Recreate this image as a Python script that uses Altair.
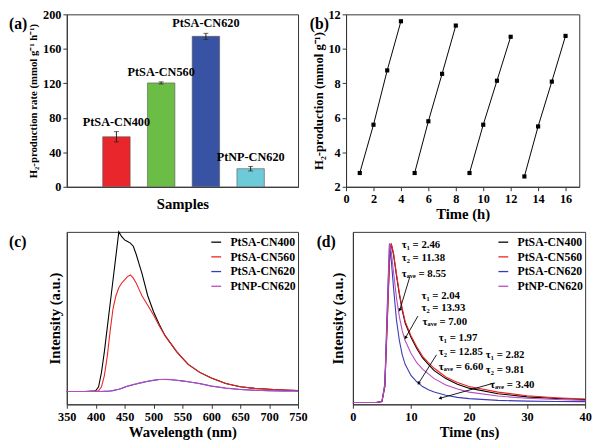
import math
import altair as alt
import pandas as pd

FONT = "Liberation Serif"

# ---------------- Panel (a) data ----------------
samples = ["PtSA-CN400", "PtSA-CN560", "PtSA-CN620", "PtNP-CN620"]
rates = [58, 120.5, 174.5, 21]
rate_err = [6, 1.2, 3.5, 2.6]
bar_colors = ["#e8262b", "#6cbd45", "#3953a4", "#6dcbd9"]

# ---------------- Panel (b) data ----------------
cycle_time = [1, 2, 3, 4, 5, 6, 7, 8, 9, 10, 11, 12, 13, 14, 15, 16]
cycle_h2 = [2.8, 5.6, 8.75, 11.6, 2.8, 5.8, 8.55, 11.35,
            2.8, 5.6, 8.15, 10.7, 2.6, 5.5, 8.1, 10.75]
cycle_id = [1, 1, 1, 1, 2, 2, 2, 2, 3, 3, 3, 3, 4, 4, 4, 4]

# ---------------- Panel (c) data ----------------
wavelength = [350, 380, 400, 405, 410, 415, 420, 425, 430, 435, 440, 445, 450, 455,
              460, 465, 470, 475, 480, 490, 500, 510, 520, 530, 540, 550, 560, 580,
              600, 625, 650, 675, 700, 725, 750]
pl_cn400 = [0, 0, 0.005, 0.03, 0.12, 0.25, 0.40, 0.55, 0.70, 0.85, 1.0, 0.97, 0.95, 0.94,
            0.93, 0.91, 0.86, 0.80, 0.74, 0.60, 0.50, 0.42, 0.35, 0.30, 0.25, 0.21, 0.17, 0.12,
            0.085, 0.05, 0.03, 0.02, 0.015, 0.01, 0.006]
pl_cn560 = [0, 0, 0, 0.005, 0.03, 0.10, 0.22, 0.38, 0.52, 0.60, 0.65, 0.68, 0.70, 0.72,
            0.73, 0.71, 0.68, 0.64, 0.60, 0.54, 0.48, 0.41, 0.35, 0.30, 0.25, 0.21, 0.17, 0.12,
            0.085, 0.05, 0.03, 0.02, 0.014, 0.01, 0.006]
pl_cn620 = [0, 0, 0, 0, 0, 0.001, 0.002, 0.004, 0.006, 0.01, 0.014, 0.02, 0.027, 0.033,
            0.038, 0.043, 0.047, 0.052, 0.056, 0.064, 0.07, 0.075, 0.076, 0.074, 0.071, 0.067, 0.062, 0.05,
            0.035, 0.022, 0.013, 0.008, 0.005, 0.004, 0.003]
pl_np620 = [0, 0, 0, 0, 0, 0.001, 0.002, 0.004, 0.007, 0.011, 0.015, 0.021, 0.028, 0.034,
            0.039, 0.044, 0.048, 0.053, 0.057, 0.065, 0.071, 0.075, 0.077, 0.075, 0.071, 0.066, 0.061, 0.049,
            0.034, 0.021, 0.013, 0.008, 0.005, 0.004, 0.003]

# ---------------- Panel (d) data ----------------
decay_time = [0, 4, 5, 5.5, 6, 6.3, 6.6, 7, 7.5, 8, 8.5, 9, 10, 11, 12, 13, 14, 16, 18, 20,
              25, 30, 35, 40]
tr_cn400 = [0, 0, 0.005, 0.1, 0.6, 0.9, 1.0, 0.93, 0.8, 0.68, 0.58, 0.5, 0.41, 0.34, 0.28,
            0.24, 0.2, 0.15, 0.115, 0.09, 0.055, 0.035, 0.025, 0.018]
tr_cn560 = [0, 0, 0.005, 0.1, 0.58, 0.88, 1.0, 0.94, 0.81, 0.69, 0.59, 0.51, 0.42, 0.35, 0.29,
            0.25, 0.215, 0.16, 0.125, 0.1, 0.065, 0.042, 0.03, 0.022]
tr_cn620 = [0, 0, 0.005, 0.12, 0.7, 1.0, 0.9, 0.72, 0.52, 0.39, 0.3, 0.24, 0.17, 0.13, 0.1,
            0.08, 0.065, 0.045, 0.032, 0.024, 0.013, 0.008, 0.006, 0.005]
tr_np620 = [0, 0, 0.005, 0.11, 0.65, 1.0, 0.95, 0.82, 0.66, 0.54, 0.45, 0.39, 0.31, 0.25, 0.21,
            0.18, 0.15, 0.11, 0.085, 0.065, 0.04, 0.026, 0.018, 0.012]
line_colors = ["#000000", "#ee2222", "#3b3bb5", "#b84bbf"]

tau_texts = ["τ₁ = 2.46", "τ₂ = 11.38", "τₐᵥₑ = 8.55",
             "τ₁ = 2.04", "τ₂ = 13.93", "τₐᵥₑ = 7.00",
             "τ₁ = 1.97", "τ₂ = 12.85", "τₐᵥₑ = 6.60",
             "τ₁ = 2.82", "τ₂ = 9.81", "τₐᵥₑ = 3.40"]
tau_x = [8.4, 8.4, 8.4, 11.8, 11.8, 12.0, 14.8, 14.8, 14.8, 22.9, 22.9, 23.6]
tau_y = [0.99, 0.91, 0.81, 0.67, 0.595, 0.506, 0.407, 0.315, 0.222, 0.296, 0.205, 0.111]
arrow_x0 = [9.79, 11.2, 14.4, 24.4]
arrow_y0 = [0.79, 0.544, 0.30, 0.123]
arrow_x1 = [8.1, 9.1, 11.36, 15.1]
arrow_y1 = [0.585, 0.41, 0.123, 0.027]

W, H = 236, 176

def panel_label(txt, dx):
    return alt.Chart(pd.DataFrame({"t": [txt]})).mark_text(
        font=FONT, fontWeight="bold", fontSize=16, align="left", baseline="middle", color="black"
    ).encode(text="t:N", x=alt.value(dx), y=alt.value(10))

# ---------------- Panel (a) ----------------
df_a = pd.DataFrame({"name": samples, "pos": [1, 2, 3, 4], "rate": rates, "err": rate_err})
base_a = alt.Chart(df_a).transform_calculate(
    lo="datum.rate - datum.err", hi="datum.rate + datum.err")
xs_a = alt.Scale(domain=[0, 4.95])
ys_a = alt.Scale(domain=[0, 200])
ax_a = alt.Axis(labels=False, ticks=False, titlePadding=10, titleFontSize=15)
ay_a = alt.Axis(values=[0, 40, 80, 120, 160, 200], titlePadding=4, titleFontSize=11)
XA = "Samples"
YA = "H₂-production rate (mmol g⁻¹ h⁻¹)"
bars = base_a.mark_bar(size=28, stroke="#555", strokeWidth=0.6).encode(
    x=alt.X("pos:Q", scale=xs_a, axis=ax_a, title=XA),
    y=alt.Y("rate:Q", scale=ys_a, axis=ay_a, title=YA),
    color=alt.Color("name:N", scale=alt.Scale(domain=samples, range=bar_colors), legend=None))
errs = base_a.mark_rule(color="#222", strokeWidth=1).encode(
    x=alt.X("pos:Q", scale=xs_a, axis=ax_a, title=XA),
    y=alt.Y("lo:Q", scale=ys_a, axis=ay_a, title=YA), y2="hi:Q")
cap_hi = base_a.mark_tick(orient="horizontal", color="#222", size=5, thickness=1).encode(
    x=alt.X("pos:Q", scale=xs_a, axis=ax_a, title=XA),
    y=alt.Y("hi:Q", scale=ys_a, axis=ay_a, title=YA))
cap_lo = base_a.mark_tick(orient="horizontal", color="#222", size=5, thickness=1).encode(
    x=alt.X("pos:Q", scale=xs_a, axis=ax_a, title=XA),
    y=alt.Y("lo:Q", scale=ys_a, axis=ay_a, title=YA))
lbl_a = base_a.mark_text(font=FONT, fontWeight="bold", fontSize=12.5, baseline="bottom", dy=-3,
                         color="black").encode(
    x=alt.X("pos:Q", scale=xs_a, axis=ax_a, title=XA),
    y=alt.Y("hi:Q", scale=ys_a, axis=ay_a, title=YA),
    text="name:N")
panel_a = alt.layer(bars, errs, cap_hi, cap_lo, lbl_a, panel_label("(a)", -59)).properties(
    width=W, height=H)

# ---------------- Panel (b) ----------------
df_b = pd.DataFrame({"time": cycle_time, "h2": cycle_h2, "cycle": cycle_id})
xb = alt.X("time:Q", scale=alt.Scale(domain=[0, 17]),
           axis=alt.Axis(values=list(range(0, 17, 2)), titlePadding=2, titleFontSize=15),
           title="Time (h)")
yb = alt.Y("h2:Q", scale=alt.Scale(domain=[2, 12]),
           axis=alt.Axis(values=[2, 4, 6, 8, 10, 12], titlePadding=3, titleFontSize=13),
           title="H₂-production (mmol g⁻¹)")
line_b = alt.Chart(df_b).mark_line(color="black", strokeWidth=1).encode(x=xb, y=yb, detail="cycle:N")
pts_b = alt.Chart(df_b).mark_point(shape="square", filled=True, size=18, color="black",
                                   opacity=1).encode(x=xb, y=yb)
panel_b = alt.layer(line_b, pts_b, panel_label("(b)", -37)).properties(width=238, height=H)

legend_cfg = dict(orient="top-right", offset=2, padding=0, title=None, labelFont=FONT,
                  labelFontWeight="bold", labelFontSize=12, labelColor="black",
                  symbolType="M-0.67,0H0.67", symbolSize=225, symbolStrokeWidth=1.3,
                  rowPadding=0, labelOffset=6)

# ---------------- Panel (c) ----------------
rows_c = []
for name, vals in zip(samples, [pl_cn400, pl_cn560, pl_cn620, pl_np620]):
    for w, v in zip(wavelength, vals):
        rows_c.append({"sample": name, "wl": w, "I": v})
df_c = pd.DataFrame(rows_c)
line_c = alt.Chart(df_c).mark_line(strokeWidth=1.1).encode(
    x=alt.X("wl:Q", scale=alt.Scale(domain=[350, 750]),
            axis=alt.Axis(values=list(range(350, 751, 50)), titlePadding=2, titleFontSize=15),
            title="Wavelength (nm)"),
    y=alt.Y("I:Q", scale=alt.Scale(domain=[-0.08, 1.0]),
            axis=alt.Axis(labels=False, ticks=False, titlePadding=4, titleFontSize=15),
            title="Intensity (a.u.)"),
    color=alt.Color("sample:N", scale=alt.Scale(domain=samples, range=line_colors),
                    sort=samples, legend=alt.Legend(**legend_cfg)),
    order=alt.Order("wl:Q"))
panel_c = alt.layer(line_c, panel_label("(c)", -59)).properties(width=W, height=H)

# ---------------- Panel (d) ----------------
rows_d = []
for name, vals in zip(samples, [tr_cn400, tr_cn560, tr_cn620, tr_np620]):
    for t, v in zip(decay_time, vals):
        rows_d.append({"trace": name, "t": t, "I": v})
df_d = pd.DataFrame(rows_d)
WD = 237
xs_d = alt.Scale(domain=[0, 40])
ys_d = alt.Scale(domain=[-0.012, 1.074])
xd_axis = alt.Axis(values=[0, 10, 20, 30, 40], titlePadding=2, titleFontSize=15)
yd_axis = alt.Axis(labels=False, ticks=False, titlePadding=8, titleFontSize=15)
line_d = alt.Chart(df_d).mark_line(strokeWidth=1.1).encode(
    x=alt.X("t:Q", scale=xs_d, axis=xd_axis, title="Time (ns)"),
    y=alt.Y("I:Q", scale=ys_d, axis=yd_axis, title="Intensity (a.u.)"),
    color=alt.Color("trace:N", scale=alt.Scale(domain=samples, range=line_colors),
                    sort=samples, legend=alt.Legend(**legend_cfg)),
    order=alt.Order("t:Q"))
df_tau = pd.DataFrame({"txt": tau_texts, "x": tau_x, "y": tau_y})
txt_d = alt.Chart(df_tau).mark_text(font=FONT, fontWeight="bold", fontSize=11, align="left",
                                    baseline="middle", color="black").encode(
    x=alt.X("x:Q", scale=xs_d, axis=xd_axis, title="Time (ns)"),
    y=alt.Y("y:Q", scale=ys_d, axis=yd_axis, title="Intensity (a.u.)"), text="txt:N")
px_x = WD / 40.0
px_y = H / (1.074 + 0.012)
angles = [math.degrees(math.atan2((x1 - x0) * px_x, (y1 - y0) * px_y)) % 360
          for x0, y0, x1, y1 in zip(arrow_x0, arrow_y0, arrow_x1, arrow_y1)]
df_arr = pd.DataFrame({"x0": arrow_x0, "y0": arrow_y0, "x1": arrow_x1, "y1": arrow_y1,
                       "ang": angles})
arr_d = alt.Chart(df_arr).mark_rule(color="black", strokeWidth=0.9).encode(
    x=alt.X("x0:Q", scale=xs_d, axis=xd_axis, title="Time (ns)"),
    y=alt.Y("y0:Q", scale=ys_d, axis=yd_axis, title="Intensity (a.u.)"), x2="x1:Q", y2="y1:Q")
head_d = alt.Chart(df_arr).mark_point(shape="triangle", filled=True, size=14, color="black",
                                      opacity=1).encode(
    x=alt.X("x1:Q", scale=xs_d, axis=xd_axis, title="Time (ns)"),
    y=alt.Y("y1:Q", scale=ys_d, axis=yd_axis, title="Intensity (a.u.)"),
    angle=alt.Angle("ang:Q", scale=None))
panel_d = alt.layer(line_d, arr_d, head_d, txt_d, panel_label("(d)", -37)).properties(
    width=WD, height=H)

top = alt.hconcat(panel_a, panel_b, spacing=10).resolve_scale(color="independent").resolve_legend(color="independent")
bottom = alt.hconcat(panel_c, panel_d, spacing=8).resolve_scale(color="independent").resolve_legend(color="independent")
chart = alt.vconcat(top, bottom, spacing=7).resolve_scale(color="independent").resolve_legend(
    color="independent").properties(
    padding={"left": 0, "top": -5, "right": 0, "bottom": 0}
).configure_axis(
    labelFont=FONT, labelFontWeight="bold", labelFontSize=12.5, labelColor="black",
    titleFont=FONT, titleFontWeight="bold", titleColor="black", labelOverlap=False,
    labelFlush=False,
    domainColor="#333", tickColor="#333", tickSize=4, labelPadding=2, grid=False
).configure_view(stroke="#333", strokeWidth=1)

chart.save("out.html", embed_options={"renderer": "svg", "actions": False})
